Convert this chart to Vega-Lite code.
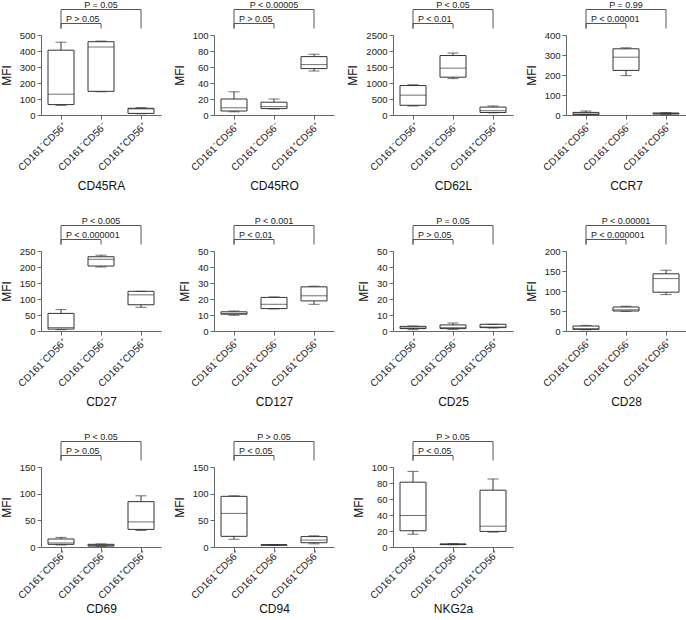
{
"$schema": "https://vega.github.io/schema/vega-lite/v6.json",
"padding": {"left": 0, "top": 0, "right": 0, "bottom": 0},
"columns": 4,
"spacing": {"row": 24, "column": 12},
"config": {
 "font": "Liberation Sans",
 "numberFormat": "d",
 "view": {"stroke": null},
 "axis": {"grid": false, "domainColor": "#666", "tickColor": "#666", "labelColor": "#222", "titleColor": "#111", "titleFontWeight": "normal", "labelFontSize": 9.5, "titleFontSize": 12, "tickSize": 4, "labelPadding": 2},
 "axisX": {"labelAngle": -45, "labelFontSize": 10, "titlePadding": 8},
 "axisY": {"titlePadding": 6},
 "text": {"color": "#222", "fontSize": 9},
 "concat": {"spacing": 0}
},
"datasets": {
 "boxes": [
  {"marker": "CD45RA", "group": "CD161⁻CD56⁺", "min": 60, "q1": 65, "median": 130, "q3": 405, "max": 455},
  {"marker": "CD45RA", "group": "CD161⁻CD56⁻", "min": 145, "q1": 148, "median": 425, "q3": 458, "max": 462},
  {"marker": "CD45RA", "group": "CD161⁺CD56⁺", "min": 8, "q1": 10, "median": 38, "q3": 42, "max": 46},
  {"marker": "CD45RO", "group": "CD161⁻CD56⁺", "min": 4, "q1": 5, "median": 9, "q3": 20, "max": 29},
  {"marker": "CD45RO", "group": "CD161⁻CD56⁻", "min": 7.5, "q1": 8, "median": 10.5, "q3": 16, "max": 20},
  {"marker": "CD45RO", "group": "CD161⁺CD56⁺", "min": 55, "q1": 58, "median": 63, "q3": 73, "max": 76},
  {"marker": "CD62L", "group": "CD161⁻CD56⁺", "min": 280, "q1": 304, "median": 620, "q3": 920, "max": 946},
  {"marker": "CD62L", "group": "CD161⁻CD56⁻", "min": 1137, "q1": 1182, "median": 1464, "q3": 1858, "max": 1937},
  {"marker": "CD62L", "group": "CD161⁺CD56⁺", "min": 68, "q1": 79, "median": 135, "q3": 248, "max": 282},
  {"marker": "CCR7", "group": "CD161⁻CD56⁺", "min": 1, "q1": 2, "median": 5, "q3": 13, "max": 20},
  {"marker": "CCR7", "group": "CD161⁻CD56⁻", "min": 197, "q1": 223, "median": 289, "q3": 331, "max": 336},
  {"marker": "CCR7", "group": "CD161⁺CD56⁺", "min": 3, "q1": 5, "median": 7, "q3": 10, "max": 12},
  {"marker": "CD27", "group": "CD161⁻CD56⁺", "min": 4, "q1": 6, "median": 10.5, "q3": 55, "max": 67},
  {"marker": "CD27", "group": "CD161⁻CD56⁻", "min": 200, "q1": 203, "median": 224, "q3": 232, "max": 237},
  {"marker": "CD27", "group": "CD161⁺CD56⁺", "min": 74, "q1": 82, "median": 113, "q3": 124, "max": 124},
  {"marker": "CD127", "group": "CD161⁻CD56⁺", "min": 9.8, "q1": 10.5, "median": 10.9, "q3": 12, "max": 12.5},
  {"marker": "CD127", "group": "CD161⁻CD56⁻", "min": 13.8, "q1": 14, "median": 16.7, "q3": 21, "max": 21.3},
  {"marker": "CD127", "group": "CD161⁺CD56⁺", "min": 16.7, "q1": 18.8, "median": 22, "q3": 27.6, "max": 28},
  {"marker": "CD25", "group": "CD161⁻CD56⁺", "min": 0.8, "q1": 1.5, "median": 1.9, "q3": 2.9, "max": 3.1},
  {"marker": "CD25", "group": "CD161⁻CD56⁻", "min": 1, "q1": 1.5, "median": 2.1, "q3": 3.8, "max": 5},
  {"marker": "CD25", "group": "CD161⁺CD56⁺", "min": 1.9, "q1": 2.1, "median": 2.5, "q3": 4.2, "max": 4.2},
  {"marker": "CD28", "group": "CD161⁻CD56⁺", "min": 3, "q1": 4, "median": 6, "q3": 12.5, "max": 14},
  {"marker": "CD28", "group": "CD161⁻CD56⁻", "min": 49, "q1": 50, "median": 53, "q3": 60, "max": 62},
  {"marker": "CD28", "group": "CD161⁺CD56⁺", "min": 91, "q1": 97, "median": 131, "q3": 143, "max": 152},
  {"marker": "CD69", "group": "CD161⁻CD56⁺", "min": 3.8, "q1": 5, "median": 7.6, "q3": 15, "max": 18},
  {"marker": "CD69", "group": "CD161⁻CD56⁻", "min": 1.3, "q1": 1.9, "median": 2.5, "q3": 5, "max": 5.7},
  {"marker": "CD69", "group": "CD161⁺CD56⁺", "min": 31, "q1": 33, "median": 47, "q3": 85, "max": 96},
  {"marker": "CD94", "group": "CD161⁻CD56⁺", "min": 14.5, "q1": 20, "median": 63, "q3": 95, "max": 96},
  {"marker": "CD94", "group": "CD161⁻CD56⁻", "min": 3, "q1": 3.2, "median": 3.8, "q3": 4.4, "max": 4.4},
  {"marker": "CD94", "group": "CD161⁺CD56⁺", "min": 6, "q1": 8, "median": 13, "q3": 19.5, "max": 21},
  {"marker": "NKG2a", "group": "CD161⁻CD56⁺", "min": 16, "q1": 20.3, "median": 39.4, "q3": 81, "max": 94.5},
  {"marker": "NKG2a", "group": "CD161⁻CD56⁻", "min": 2.9, "q1": 3, "median": 3.4, "q3": 3.8, "max": 4.2},
  {"marker": "NKG2a", "group": "CD161⁺CD56⁺", "min": 18.6, "q1": 19.5, "median": 26, "q3": 71, "max": 85}
 ],
 "brackets": [
  {"marker": "CD45RA", "level": 1, "from": "CD161⁻CD56⁺", "to": "CD161⁻CD56⁻", "label": "P > 0.05"},
  {"marker": "CD45RA", "level": 2, "from": "CD161⁻CD56⁺", "to": "CD161⁺CD56⁺", "label": "P =  0.05"},
  {"marker": "CD45RO", "level": 1, "from": "CD161⁻CD56⁺", "to": "CD161⁻CD56⁻", "label": "P > 0.05"},
  {"marker": "CD45RO", "level": 2, "from": "CD161⁻CD56⁺", "to": "CD161⁺CD56⁺", "label": "P < 0.00005"},
  {"marker": "CD62L", "level": 1, "from": "CD161⁻CD56⁺", "to": "CD161⁻CD56⁻", "label": "P < 0.01"},
  {"marker": "CD62L", "level": 2, "from": "CD161⁻CD56⁺", "to": "CD161⁺CD56⁺", "label": "P <  0.05"},
  {"marker": "CCR7", "level": 1, "from": "CD161⁻CD56⁺", "to": "CD161⁻CD56⁻", "label": "P < 0.00001"},
  {"marker": "CCR7", "level": 2, "from": "CD161⁻CD56⁺", "to": "CD161⁺CD56⁺", "label": "P = 0.99"},
  {"marker": "CD27", "level": 1, "from": "CD161⁻CD56⁺", "to": "CD161⁻CD56⁻", "label": "P < 0.000001"},
  {"marker": "CD27", "level": 2, "from": "CD161⁻CD56⁺", "to": "CD161⁺CD56⁺", "label": "P <  0.005"},
  {"marker": "CD127", "level": 1, "from": "CD161⁻CD56⁺", "to": "CD161⁻CD56⁻", "label": "P < 0.01"},
  {"marker": "CD127", "level": 2, "from": "CD161⁻CD56⁺", "to": "CD161⁺CD56⁺", "label": "P < 0.001"},
  {"marker": "CD25", "level": 1, "from": "CD161⁻CD56⁺", "to": "CD161⁻CD56⁻", "label": "P > 0.05"},
  {"marker": "CD25", "level": 2, "from": "CD161⁻CD56⁺", "to": "CD161⁺CD56⁺", "label": "P =  0.05"},
  {"marker": "CD28", "level": 1, "from": "CD161⁻CD56⁺", "to": "CD161⁻CD56⁻", "label": "P < 0.000001"},
  {"marker": "CD28", "level": 2, "from": "CD161⁻CD56⁺", "to": "CD161⁺CD56⁺", "label": "P < 0.00001"},
  {"marker": "CD69", "level": 1, "from": "CD161⁻CD56⁺", "to": "CD161⁻CD56⁻", "label": "P > 0.05"},
  {"marker": "CD69", "level": 2, "from": "CD161⁻CD56⁺", "to": "CD161⁺CD56⁺", "label": "P <  0.05"},
  {"marker": "CD94", "level": 1, "from": "CD161⁻CD56⁺", "to": "CD161⁻CD56⁻", "label": "P < 0.05"},
  {"marker": "CD94", "level": 2, "from": "CD161⁻CD56⁺", "to": "CD161⁺CD56⁺", "label": "P > 0.05"},
  {"marker": "NKG2a", "level": 1, "from": "CD161⁻CD56⁺", "to": "CD161⁻CD56⁻", "label": "P < 0.05"},
  {"marker": "NKG2a", "level": 2, "from": "CD161⁻CD56⁺", "to": "CD161⁺CD56⁺", "label": "P >  0.05"}
 ]
},
"concat": [
 {"spacing": 0, "vconcat": [
  {"width": 120, "height": 22, "data": {"name": "brackets"}, "transform": [{"filter": "datum.marker == 'CD45RA'"}],
   "encoding": {"x": {"field": "from", "type": "nominal", "scale": {"domain": ["CD161⁻CD56⁺", "CD161⁻CD56⁻", "CD161⁺CD56⁺"], "paddingInner": 0, "paddingOuter": 0}, "axis": null},
     "y": {"field": "level", "type": "quantitative", "scale": {"domain": [0, 1, 2], "range": [20.5, 15.5, 1.5], "zero": false, "nice": false}, "axis": null}},
   "layer": [
    {"mark": {"type": "rule", "color": "#555"}, "encoding": {"x2": {"field": "to"}}},
    {"mark": {"type": "rule", "color": "#555"}, "encoding": {"y2": {"datum": 0}}},
    {"mark": {"type": "rule", "color": "#555"}, "encoding": {"x": {"field": "to", "type": "nominal", "axis": null}, "y2": {"datum": 0}}},
    {"transform": [{"filter": "datum.level == 1"}], "mark": {"type": "text", "align": "left", "dx": 5, "dy": -2, "baseline": "alphabetic"}, "encoding": {"text": {"field": "label"}}},
    {"transform": [{"filter": "datum.level == 2"}], "mark": {"type": "text", "align": "center", "dy": -2, "baseline": "alphabetic"}, "encoding": {"x": {"datum": "CD161⁻CD56⁻", "type": "nominal", "axis": null}, "text": {"field": "label"}}}
   ]},
  {"width": 120, "height": 80, "data": {"name": "boxes"}, "transform": [{"filter": "datum.marker == 'CD45RA'"}],
   "encoding": {"x": {"field": "group", "type": "nominal", "scale": {"domain": ["CD161⁻CD56⁺", "CD161⁻CD56⁻", "CD161⁺CD56⁺"], "paddingInner": 0, "paddingOuter": 0}, "title": "CD45RA"}},
   "layer": [
    {"mark": {"type": "rule", "color": "#333"}, "encoding": {"y": {"field": "min", "type": "quantitative", "scale": {"domain": [0, 500], "nice": false}, "axis": {"values": [0, 100, 200, 300, 400, 500]}, "title": "MFI"}, "y2": {"field": "max"}}},
    {"mark": {"type": "bar", "fill": "white", "stroke": "#333", "strokeWidth": 1, "width": {"band": 0.65}}, "encoding": {"y": {"field": "q1", "type": "quantitative", "scale": {"domain": [0, 500], "nice": false}, "axis": {"values": [0, 100, 200, 300, 400, 500]}, "title": "MFI"}, "y2": {"field": "q3"}}},
    {"mark": {"type": "tick", "color": "#333", "size": 26, "thickness": 1}, "encoding": {"y": {"field": "median", "type": "quantitative", "scale": {"domain": [0, 500], "nice": false}, "axis": {"values": [0, 100, 200, 300, 400, 500]}, "title": "MFI"}}},
    {"mark": {"type": "tick", "color": "#333", "size": 11, "thickness": 1}, "encoding": {"y": {"field": "min", "type": "quantitative", "scale": {"domain": [0, 500], "nice": false}, "axis": {"values": [0, 100, 200, 300, 400, 500]}, "title": "MFI"}}},
    {"mark": {"type": "tick", "color": "#333", "size": 11, "thickness": 1}, "encoding": {"y": {"field": "max", "type": "quantitative", "scale": {"domain": [0, 500], "nice": false}, "axis": {"values": [0, 100, 200, 300, 400, 500]}, "title": "MFI"}}}
   ]}
 ]},
 {"spacing": 0, "vconcat": [
  {"width": 120, "height": 22, "data": {"name": "brackets"}, "transform": [{"filter": "datum.marker == 'CD45RO'"}],
   "encoding": {"x": {"field": "from", "type": "nominal", "scale": {"domain": ["CD161⁻CD56⁺", "CD161⁻CD56⁻", "CD161⁺CD56⁺"], "paddingInner": 0, "paddingOuter": 0}, "axis": null},
     "y": {"field": "level", "type": "quantitative", "scale": {"domain": [0, 1, 2], "range": [20.5, 15.5, 1.5], "zero": false, "nice": false}, "axis": null}},
   "layer": [
    {"mark": {"type": "rule", "color": "#555"}, "encoding": {"x2": {"field": "to"}}},
    {"mark": {"type": "rule", "color": "#555"}, "encoding": {"y2": {"datum": 0}}},
    {"mark": {"type": "rule", "color": "#555"}, "encoding": {"x": {"field": "to", "type": "nominal", "axis": null}, "y2": {"datum": 0}}},
    {"transform": [{"filter": "datum.level == 1"}], "mark": {"type": "text", "align": "left", "dx": 5, "dy": -2, "baseline": "alphabetic"}, "encoding": {"text": {"field": "label"}}},
    {"transform": [{"filter": "datum.level == 2"}], "mark": {"type": "text", "align": "center", "dy": -2, "baseline": "alphabetic"}, "encoding": {"x": {"datum": "CD161⁻CD56⁻", "type": "nominal", "axis": null}, "text": {"field": "label"}}}
   ]},
  {"width": 120, "height": 80, "data": {"name": "boxes"}, "transform": [{"filter": "datum.marker == 'CD45RO'"}],
   "encoding": {"x": {"field": "group", "type": "nominal", "scale": {"domain": ["CD161⁻CD56⁺", "CD161⁻CD56⁻", "CD161⁺CD56⁺"], "paddingInner": 0, "paddingOuter": 0}, "title": "CD45RO"}},
   "layer": [
    {"mark": {"type": "rule", "color": "#333"}, "encoding": {"y": {"field": "min", "type": "quantitative", "scale": {"domain": [0, 100], "nice": false}, "axis": {"values": [0, 20, 40, 60, 80, 100]}, "title": "MFI"}, "y2": {"field": "max"}}},
    {"mark": {"type": "bar", "fill": "white", "stroke": "#333", "strokeWidth": 1, "width": {"band": 0.65}}, "encoding": {"y": {"field": "q1", "type": "quantitative", "scale": {"domain": [0, 100], "nice": false}, "axis": {"values": [0, 20, 40, 60, 80, 100]}, "title": "MFI"}, "y2": {"field": "q3"}}},
    {"mark": {"type": "tick", "color": "#333", "size": 26, "thickness": 1}, "encoding": {"y": {"field": "median", "type": "quantitative", "scale": {"domain": [0, 100], "nice": false}, "axis": {"values": [0, 20, 40, 60, 80, 100]}, "title": "MFI"}}},
    {"mark": {"type": "tick", "color": "#333", "size": 11, "thickness": 1}, "encoding": {"y": {"field": "min", "type": "quantitative", "scale": {"domain": [0, 100], "nice": false}, "axis": {"values": [0, 20, 40, 60, 80, 100]}, "title": "MFI"}}},
    {"mark": {"type": "tick", "color": "#333", "size": 11, "thickness": 1}, "encoding": {"y": {"field": "max", "type": "quantitative", "scale": {"domain": [0, 100], "nice": false}, "axis": {"values": [0, 20, 40, 60, 80, 100]}, "title": "MFI"}}}
   ]}
 ]},
 {"spacing": 0, "vconcat": [
  {"width": 120, "height": 22, "data": {"name": "brackets"}, "transform": [{"filter": "datum.marker == 'CD62L'"}],
   "encoding": {"x": {"field": "from", "type": "nominal", "scale": {"domain": ["CD161⁻CD56⁺", "CD161⁻CD56⁻", "CD161⁺CD56⁺"], "paddingInner": 0, "paddingOuter": 0}, "axis": null},
     "y": {"field": "level", "type": "quantitative", "scale": {"domain": [0, 1, 2], "range": [20.5, 15.5, 1.5], "zero": false, "nice": false}, "axis": null}},
   "layer": [
    {"mark": {"type": "rule", "color": "#555"}, "encoding": {"x2": {"field": "to"}}},
    {"mark": {"type": "rule", "color": "#555"}, "encoding": {"y2": {"datum": 0}}},
    {"mark": {"type": "rule", "color": "#555"}, "encoding": {"x": {"field": "to", "type": "nominal", "axis": null}, "y2": {"datum": 0}}},
    {"transform": [{"filter": "datum.level == 1"}], "mark": {"type": "text", "align": "left", "dx": 5, "dy": -2, "baseline": "alphabetic"}, "encoding": {"text": {"field": "label"}}},
    {"transform": [{"filter": "datum.level == 2"}], "mark": {"type": "text", "align": "center", "dy": -2, "baseline": "alphabetic"}, "encoding": {"x": {"datum": "CD161⁻CD56⁻", "type": "nominal", "axis": null}, "text": {"field": "label"}}}
   ]},
  {"width": 120, "height": 80, "data": {"name": "boxes"}, "transform": [{"filter": "datum.marker == 'CD62L'"}],
   "encoding": {"x": {"field": "group", "type": "nominal", "scale": {"domain": ["CD161⁻CD56⁺", "CD161⁻CD56⁻", "CD161⁺CD56⁺"], "paddingInner": 0, "paddingOuter": 0}, "title": "CD62L"}},
   "layer": [
    {"mark": {"type": "rule", "color": "#333"}, "encoding": {"y": {"field": "min", "type": "quantitative", "scale": {"domain": [0, 2500], "nice": false}, "axis": {"values": [0, 500, 1000, 1500, 2000, 2500]}, "title": "MFI"}, "y2": {"field": "max"}}},
    {"mark": {"type": "bar", "fill": "white", "stroke": "#333", "strokeWidth": 1, "width": {"band": 0.65}}, "encoding": {"y": {"field": "q1", "type": "quantitative", "scale": {"domain": [0, 2500], "nice": false}, "axis": {"values": [0, 500, 1000, 1500, 2000, 2500]}, "title": "MFI"}, "y2": {"field": "q3"}}},
    {"mark": {"type": "tick", "color": "#333", "size": 26, "thickness": 1}, "encoding": {"y": {"field": "median", "type": "quantitative", "scale": {"domain": [0, 2500], "nice": false}, "axis": {"values": [0, 500, 1000, 1500, 2000, 2500]}, "title": "MFI"}}},
    {"mark": {"type": "tick", "color": "#333", "size": 11, "thickness": 1}, "encoding": {"y": {"field": "min", "type": "quantitative", "scale": {"domain": [0, 2500], "nice": false}, "axis": {"values": [0, 500, 1000, 1500, 2000, 2500]}, "title": "MFI"}}},
    {"mark": {"type": "tick", "color": "#333", "size": 11, "thickness": 1}, "encoding": {"y": {"field": "max", "type": "quantitative", "scale": {"domain": [0, 2500], "nice": false}, "axis": {"values": [0, 500, 1000, 1500, 2000, 2500]}, "title": "MFI"}}}
   ]}
 ]},
 {"spacing": 0, "vconcat": [
  {"width": 120, "height": 22, "data": {"name": "brackets"}, "transform": [{"filter": "datum.marker == 'CCR7'"}],
   "encoding": {"x": {"field": "from", "type": "nominal", "scale": {"domain": ["CD161⁻CD56⁺", "CD161⁻CD56⁻", "CD161⁺CD56⁺"], "paddingInner": 0, "paddingOuter": 0}, "axis": null},
     "y": {"field": "level", "type": "quantitative", "scale": {"domain": [0, 1, 2], "range": [20.5, 15.5, 1.5], "zero": false, "nice": false}, "axis": null}},
   "layer": [
    {"mark": {"type": "rule", "color": "#555"}, "encoding": {"x2": {"field": "to"}}},
    {"mark": {"type": "rule", "color": "#555"}, "encoding": {"y2": {"datum": 0}}},
    {"mark": {"type": "rule", "color": "#555"}, "encoding": {"x": {"field": "to", "type": "nominal", "axis": null}, "y2": {"datum": 0}}},
    {"transform": [{"filter": "datum.level == 1"}], "mark": {"type": "text", "align": "left", "dx": 5, "dy": -2, "baseline": "alphabetic"}, "encoding": {"text": {"field": "label"}}},
    {"transform": [{"filter": "datum.level == 2"}], "mark": {"type": "text", "align": "center", "dy": -2, "baseline": "alphabetic"}, "encoding": {"x": {"datum": "CD161⁻CD56⁻", "type": "nominal", "axis": null}, "text": {"field": "label"}}}
   ]},
  {"width": 120, "height": 80, "data": {"name": "boxes"}, "transform": [{"filter": "datum.marker == 'CCR7'"}],
   "encoding": {"x": {"field": "group", "type": "nominal", "scale": {"domain": ["CD161⁻CD56⁺", "CD161⁻CD56⁻", "CD161⁺CD56⁺"], "paddingInner": 0, "paddingOuter": 0}, "title": "CCR7"}},
   "layer": [
    {"mark": {"type": "rule", "color": "#333"}, "encoding": {"y": {"field": "min", "type": "quantitative", "scale": {"domain": [0, 400], "nice": false}, "axis": {"values": [0, 100, 200, 300, 400]}, "title": "MFI"}, "y2": {"field": "max"}}},
    {"mark": {"type": "bar", "fill": "white", "stroke": "#333", "strokeWidth": 1, "width": {"band": 0.65}}, "encoding": {"y": {"field": "q1", "type": "quantitative", "scale": {"domain": [0, 400], "nice": false}, "axis": {"values": [0, 100, 200, 300, 400]}, "title": "MFI"}, "y2": {"field": "q3"}}},
    {"mark": {"type": "tick", "color": "#333", "size": 26, "thickness": 1}, "encoding": {"y": {"field": "median", "type": "quantitative", "scale": {"domain": [0, 400], "nice": false}, "axis": {"values": [0, 100, 200, 300, 400]}, "title": "MFI"}}},
    {"mark": {"type": "tick", "color": "#333", "size": 11, "thickness": 1}, "encoding": {"y": {"field": "min", "type": "quantitative", "scale": {"domain": [0, 400], "nice": false}, "axis": {"values": [0, 100, 200, 300, 400]}, "title": "MFI"}}},
    {"mark": {"type": "tick", "color": "#333", "size": 11, "thickness": 1}, "encoding": {"y": {"field": "max", "type": "quantitative", "scale": {"domain": [0, 400], "nice": false}, "axis": {"values": [0, 100, 200, 300, 400]}, "title": "MFI"}}}
   ]}
 ]},
 {"spacing": 0, "vconcat": [
  {"width": 120, "height": 22, "data": {"name": "brackets"}, "transform": [{"filter": "datum.marker == 'CD27'"}],
   "encoding": {"x": {"field": "from", "type": "nominal", "scale": {"domain": ["CD161⁻CD56⁺", "CD161⁻CD56⁻", "CD161⁺CD56⁺"], "paddingInner": 0, "paddingOuter": 0}, "axis": null},
     "y": {"field": "level", "type": "quantitative", "scale": {"domain": [0, 1, 2], "range": [20.5, 15.5, 1.5], "zero": false, "nice": false}, "axis": null}},
   "layer": [
    {"mark": {"type": "rule", "color": "#555"}, "encoding": {"x2": {"field": "to"}}},
    {"mark": {"type": "rule", "color": "#555"}, "encoding": {"y2": {"datum": 0}}},
    {"mark": {"type": "rule", "color": "#555"}, "encoding": {"x": {"field": "to", "type": "nominal", "axis": null}, "y2": {"datum": 0}}},
    {"transform": [{"filter": "datum.level == 1"}], "mark": {"type": "text", "align": "left", "dx": 5, "dy": -2, "baseline": "alphabetic"}, "encoding": {"text": {"field": "label"}}},
    {"transform": [{"filter": "datum.level == 2"}], "mark": {"type": "text", "align": "center", "dy": -2, "baseline": "alphabetic"}, "encoding": {"x": {"datum": "CD161⁻CD56⁻", "type": "nominal", "axis": null}, "text": {"field": "label"}}}
   ]},
  {"width": 120, "height": 80, "data": {"name": "boxes"}, "transform": [{"filter": "datum.marker == 'CD27'"}],
   "encoding": {"x": {"field": "group", "type": "nominal", "scale": {"domain": ["CD161⁻CD56⁺", "CD161⁻CD56⁻", "CD161⁺CD56⁺"], "paddingInner": 0, "paddingOuter": 0}, "title": "CD27"}},
   "layer": [
    {"mark": {"type": "rule", "color": "#333"}, "encoding": {"y": {"field": "min", "type": "quantitative", "scale": {"domain": [0, 250], "nice": false}, "axis": {"values": [0, 50, 100, 150, 200, 250]}, "title": "MFI"}, "y2": {"field": "max"}}},
    {"mark": {"type": "bar", "fill": "white", "stroke": "#333", "strokeWidth": 1, "width": {"band": 0.65}}, "encoding": {"y": {"field": "q1", "type": "quantitative", "scale": {"domain": [0, 250], "nice": false}, "axis": {"values": [0, 50, 100, 150, 200, 250]}, "title": "MFI"}, "y2": {"field": "q3"}}},
    {"mark": {"type": "tick", "color": "#333", "size": 26, "thickness": 1}, "encoding": {"y": {"field": "median", "type": "quantitative", "scale": {"domain": [0, 250], "nice": false}, "axis": {"values": [0, 50, 100, 150, 200, 250]}, "title": "MFI"}}},
    {"mark": {"type": "tick", "color": "#333", "size": 11, "thickness": 1}, "encoding": {"y": {"field": "min", "type": "quantitative", "scale": {"domain": [0, 250], "nice": false}, "axis": {"values": [0, 50, 100, 150, 200, 250]}, "title": "MFI"}}},
    {"mark": {"type": "tick", "color": "#333", "size": 11, "thickness": 1}, "encoding": {"y": {"field": "max", "type": "quantitative", "scale": {"domain": [0, 250], "nice": false}, "axis": {"values": [0, 50, 100, 150, 200, 250]}, "title": "MFI"}}}
   ]}
 ]},
 {"spacing": 0, "vconcat": [
  {"width": 120, "height": 22, "data": {"name": "brackets"}, "transform": [{"filter": "datum.marker == 'CD127'"}],
   "encoding": {"x": {"field": "from", "type": "nominal", "scale": {"domain": ["CD161⁻CD56⁺", "CD161⁻CD56⁻", "CD161⁺CD56⁺"], "paddingInner": 0, "paddingOuter": 0}, "axis": null},
     "y": {"field": "level", "type": "quantitative", "scale": {"domain": [0, 1, 2], "range": [20.5, 15.5, 1.5], "zero": false, "nice": false}, "axis": null}},
   "layer": [
    {"mark": {"type": "rule", "color": "#555"}, "encoding": {"x2": {"field": "to"}}},
    {"mark": {"type": "rule", "color": "#555"}, "encoding": {"y2": {"datum": 0}}},
    {"mark": {"type": "rule", "color": "#555"}, "encoding": {"x": {"field": "to", "type": "nominal", "axis": null}, "y2": {"datum": 0}}},
    {"transform": [{"filter": "datum.level == 1"}], "mark": {"type": "text", "align": "left", "dx": 5, "dy": -2, "baseline": "alphabetic"}, "encoding": {"text": {"field": "label"}}},
    {"transform": [{"filter": "datum.level == 2"}], "mark": {"type": "text", "align": "center", "dy": -2, "baseline": "alphabetic"}, "encoding": {"x": {"datum": "CD161⁻CD56⁻", "type": "nominal", "axis": null}, "text": {"field": "label"}}}
   ]},
  {"width": 120, "height": 80, "data": {"name": "boxes"}, "transform": [{"filter": "datum.marker == 'CD127'"}],
   "encoding": {"x": {"field": "group", "type": "nominal", "scale": {"domain": ["CD161⁻CD56⁺", "CD161⁻CD56⁻", "CD161⁺CD56⁺"], "paddingInner": 0, "paddingOuter": 0}, "title": "CD127"}},
   "layer": [
    {"mark": {"type": "rule", "color": "#333"}, "encoding": {"y": {"field": "min", "type": "quantitative", "scale": {"domain": [0, 50], "nice": false}, "axis": {"values": [0, 10, 20, 30, 40, 50]}, "title": "MFI"}, "y2": {"field": "max"}}},
    {"mark": {"type": "bar", "fill": "white", "stroke": "#333", "strokeWidth": 1, "width": {"band": 0.65}}, "encoding": {"y": {"field": "q1", "type": "quantitative", "scale": {"domain": [0, 50], "nice": false}, "axis": {"values": [0, 10, 20, 30, 40, 50]}, "title": "MFI"}, "y2": {"field": "q3"}}},
    {"mark": {"type": "tick", "color": "#333", "size": 26, "thickness": 1}, "encoding": {"y": {"field": "median", "type": "quantitative", "scale": {"domain": [0, 50], "nice": false}, "axis": {"values": [0, 10, 20, 30, 40, 50]}, "title": "MFI"}}},
    {"mark": {"type": "tick", "color": "#333", "size": 11, "thickness": 1}, "encoding": {"y": {"field": "min", "type": "quantitative", "scale": {"domain": [0, 50], "nice": false}, "axis": {"values": [0, 10, 20, 30, 40, 50]}, "title": "MFI"}}},
    {"mark": {"type": "tick", "color": "#333", "size": 11, "thickness": 1}, "encoding": {"y": {"field": "max", "type": "quantitative", "scale": {"domain": [0, 50], "nice": false}, "axis": {"values": [0, 10, 20, 30, 40, 50]}, "title": "MFI"}}}
   ]}
 ]},
 {"spacing": 0, "vconcat": [
  {"width": 120, "height": 22, "data": {"name": "brackets"}, "transform": [{"filter": "datum.marker == 'CD25'"}],
   "encoding": {"x": {"field": "from", "type": "nominal", "scale": {"domain": ["CD161⁻CD56⁺", "CD161⁻CD56⁻", "CD161⁺CD56⁺"], "paddingInner": 0, "paddingOuter": 0}, "axis": null},
     "y": {"field": "level", "type": "quantitative", "scale": {"domain": [0, 1, 2], "range": [20.5, 15.5, 1.5], "zero": false, "nice": false}, "axis": null}},
   "layer": [
    {"mark": {"type": "rule", "color": "#555"}, "encoding": {"x2": {"field": "to"}}},
    {"mark": {"type": "rule", "color": "#555"}, "encoding": {"y2": {"datum": 0}}},
    {"mark": {"type": "rule", "color": "#555"}, "encoding": {"x": {"field": "to", "type": "nominal", "axis": null}, "y2": {"datum": 0}}},
    {"transform": [{"filter": "datum.level == 1"}], "mark": {"type": "text", "align": "left", "dx": 5, "dy": -2, "baseline": "alphabetic"}, "encoding": {"text": {"field": "label"}}},
    {"transform": [{"filter": "datum.level == 2"}], "mark": {"type": "text", "align": "center", "dy": -2, "baseline": "alphabetic"}, "encoding": {"x": {"datum": "CD161⁻CD56⁻", "type": "nominal", "axis": null}, "text": {"field": "label"}}}
   ]},
  {"width": 120, "height": 80, "data": {"name": "boxes"}, "transform": [{"filter": "datum.marker == 'CD25'"}],
   "encoding": {"x": {"field": "group", "type": "nominal", "scale": {"domain": ["CD161⁻CD56⁺", "CD161⁻CD56⁻", "CD161⁺CD56⁺"], "paddingInner": 0, "paddingOuter": 0}, "title": "CD25"}},
   "layer": [
    {"mark": {"type": "rule", "color": "#333"}, "encoding": {"y": {"field": "min", "type": "quantitative", "scale": {"domain": [0, 50], "nice": false}, "axis": {"values": [0, 10, 20, 30, 40, 50]}, "title": "MFI"}, "y2": {"field": "max"}}},
    {"mark": {"type": "bar", "fill": "white", "stroke": "#333", "strokeWidth": 1, "width": {"band": 0.65}}, "encoding": {"y": {"field": "q1", "type": "quantitative", "scale": {"domain": [0, 50], "nice": false}, "axis": {"values": [0, 10, 20, 30, 40, 50]}, "title": "MFI"}, "y2": {"field": "q3"}}},
    {"mark": {"type": "tick", "color": "#333", "size": 26, "thickness": 1}, "encoding": {"y": {"field": "median", "type": "quantitative", "scale": {"domain": [0, 50], "nice": false}, "axis": {"values": [0, 10, 20, 30, 40, 50]}, "title": "MFI"}}},
    {"mark": {"type": "tick", "color": "#333", "size": 11, "thickness": 1}, "encoding": {"y": {"field": "min", "type": "quantitative", "scale": {"domain": [0, 50], "nice": false}, "axis": {"values": [0, 10, 20, 30, 40, 50]}, "title": "MFI"}}},
    {"mark": {"type": "tick", "color": "#333", "size": 11, "thickness": 1}, "encoding": {"y": {"field": "max", "type": "quantitative", "scale": {"domain": [0, 50], "nice": false}, "axis": {"values": [0, 10, 20, 30, 40, 50]}, "title": "MFI"}}}
   ]}
 ]},
 {"spacing": 0, "vconcat": [
  {"width": 120, "height": 22, "data": {"name": "brackets"}, "transform": [{"filter": "datum.marker == 'CD28'"}],
   "encoding": {"x": {"field": "from", "type": "nominal", "scale": {"domain": ["CD161⁻CD56⁺", "CD161⁻CD56⁻", "CD161⁺CD56⁺"], "paddingInner": 0, "paddingOuter": 0}, "axis": null},
     "y": {"field": "level", "type": "quantitative", "scale": {"domain": [0, 1, 2], "range": [20.5, 15.5, 1.5], "zero": false, "nice": false}, "axis": null}},
   "layer": [
    {"mark": {"type": "rule", "color": "#555"}, "encoding": {"x2": {"field": "to"}}},
    {"mark": {"type": "rule", "color": "#555"}, "encoding": {"y2": {"datum": 0}}},
    {"mark": {"type": "rule", "color": "#555"}, "encoding": {"x": {"field": "to", "type": "nominal", "axis": null}, "y2": {"datum": 0}}},
    {"transform": [{"filter": "datum.level == 1"}], "mark": {"type": "text", "align": "left", "dx": 5, "dy": -2, "baseline": "alphabetic"}, "encoding": {"text": {"field": "label"}}},
    {"transform": [{"filter": "datum.level == 2"}], "mark": {"type": "text", "align": "center", "dy": -2, "baseline": "alphabetic"}, "encoding": {"x": {"datum": "CD161⁻CD56⁻", "type": "nominal", "axis": null}, "text": {"field": "label"}}}
   ]},
  {"width": 120, "height": 80, "data": {"name": "boxes"}, "transform": [{"filter": "datum.marker == 'CD28'"}],
   "encoding": {"x": {"field": "group", "type": "nominal", "scale": {"domain": ["CD161⁻CD56⁺", "CD161⁻CD56⁻", "CD161⁺CD56⁺"], "paddingInner": 0, "paddingOuter": 0}, "title": "CD28"}},
   "layer": [
    {"mark": {"type": "rule", "color": "#333"}, "encoding": {"y": {"field": "min", "type": "quantitative", "scale": {"domain": [0, 200], "nice": false}, "axis": {"values": [0, 50, 100, 150, 200]}, "title": "MFI"}, "y2": {"field": "max"}}},
    {"mark": {"type": "bar", "fill": "white", "stroke": "#333", "strokeWidth": 1, "width": {"band": 0.65}}, "encoding": {"y": {"field": "q1", "type": "quantitative", "scale": {"domain": [0, 200], "nice": false}, "axis": {"values": [0, 50, 100, 150, 200]}, "title": "MFI"}, "y2": {"field": "q3"}}},
    {"mark": {"type": "tick", "color": "#333", "size": 26, "thickness": 1}, "encoding": {"y": {"field": "median", "type": "quantitative", "scale": {"domain": [0, 200], "nice": false}, "axis": {"values": [0, 50, 100, 150, 200]}, "title": "MFI"}}},
    {"mark": {"type": "tick", "color": "#333", "size": 11, "thickness": 1}, "encoding": {"y": {"field": "min", "type": "quantitative", "scale": {"domain": [0, 200], "nice": false}, "axis": {"values": [0, 50, 100, 150, 200]}, "title": "MFI"}}},
    {"mark": {"type": "tick", "color": "#333", "size": 11, "thickness": 1}, "encoding": {"y": {"field": "max", "type": "quantitative", "scale": {"domain": [0, 200], "nice": false}, "axis": {"values": [0, 50, 100, 150, 200]}, "title": "MFI"}}}
   ]}
 ]},
 {"spacing": 0, "vconcat": [
  {"width": 120, "height": 22, "data": {"name": "brackets"}, "transform": [{"filter": "datum.marker == 'CD69'"}],
   "encoding": {"x": {"field": "from", "type": "nominal", "scale": {"domain": ["CD161⁻CD56⁺", "CD161⁻CD56⁻", "CD161⁺CD56⁺"], "paddingInner": 0, "paddingOuter": 0}, "axis": null},
     "y": {"field": "level", "type": "quantitative", "scale": {"domain": [0, 1, 2], "range": [20.5, 15.5, 1.5], "zero": false, "nice": false}, "axis": null}},
   "layer": [
    {"mark": {"type": "rule", "color": "#555"}, "encoding": {"x2": {"field": "to"}}},
    {"mark": {"type": "rule", "color": "#555"}, "encoding": {"y2": {"datum": 0}}},
    {"mark": {"type": "rule", "color": "#555"}, "encoding": {"x": {"field": "to", "type": "nominal", "axis": null}, "y2": {"datum": 0}}},
    {"transform": [{"filter": "datum.level == 1"}], "mark": {"type": "text", "align": "left", "dx": 5, "dy": -2, "baseline": "alphabetic"}, "encoding": {"text": {"field": "label"}}},
    {"transform": [{"filter": "datum.level == 2"}], "mark": {"type": "text", "align": "center", "dy": -2, "baseline": "alphabetic"}, "encoding": {"x": {"datum": "CD161⁻CD56⁻", "type": "nominal", "axis": null}, "text": {"field": "label"}}}
   ]},
  {"width": 120, "height": 80, "data": {"name": "boxes"}, "transform": [{"filter": "datum.marker == 'CD69'"}],
   "encoding": {"x": {"field": "group", "type": "nominal", "scale": {"domain": ["CD161⁻CD56⁺", "CD161⁻CD56⁻", "CD161⁺CD56⁺"], "paddingInner": 0, "paddingOuter": 0}, "title": "CD69", "axis": {"labelPadding": -2, "titlePadding": 3}}},
   "layer": [
    {"mark": {"type": "rule", "color": "#333"}, "encoding": {"y": {"field": "min", "type": "quantitative", "scale": {"domain": [0, 150], "nice": false}, "axis": {"values": [0, 50, 100, 150]}, "title": "MFI"}, "y2": {"field": "max"}}},
    {"mark": {"type": "bar", "fill": "white", "stroke": "#333", "strokeWidth": 1, "width": {"band": 0.65}}, "encoding": {"y": {"field": "q1", "type": "quantitative", "scale": {"domain": [0, 150], "nice": false}, "axis": {"values": [0, 50, 100, 150]}, "title": "MFI"}, "y2": {"field": "q3"}}},
    {"mark": {"type": "tick", "color": "#333", "size": 26, "thickness": 1}, "encoding": {"y": {"field": "median", "type": "quantitative", "scale": {"domain": [0, 150], "nice": false}, "axis": {"values": [0, 50, 100, 150]}, "title": "MFI"}}},
    {"mark": {"type": "tick", "color": "#333", "size": 11, "thickness": 1}, "encoding": {"y": {"field": "min", "type": "quantitative", "scale": {"domain": [0, 150], "nice": false}, "axis": {"values": [0, 50, 100, 150]}, "title": "MFI"}}},
    {"mark": {"type": "tick", "color": "#333", "size": 11, "thickness": 1}, "encoding": {"y": {"field": "max", "type": "quantitative", "scale": {"domain": [0, 150], "nice": false}, "axis": {"values": [0, 50, 100, 150]}, "title": "MFI"}}}
   ]}
 ]},
 {"spacing": 0, "vconcat": [
  {"width": 120, "height": 22, "data": {"name": "brackets"}, "transform": [{"filter": "datum.marker == 'CD94'"}],
   "encoding": {"x": {"field": "from", "type": "nominal", "scale": {"domain": ["CD161⁻CD56⁺", "CD161⁻CD56⁻", "CD161⁺CD56⁺"], "paddingInner": 0, "paddingOuter": 0}, "axis": null},
     "y": {"field": "level", "type": "quantitative", "scale": {"domain": [0, 1, 2], "range": [20.5, 15.5, 1.5], "zero": false, "nice": false}, "axis": null}},
   "layer": [
    {"mark": {"type": "rule", "color": "#555"}, "encoding": {"x2": {"field": "to"}}},
    {"mark": {"type": "rule", "color": "#555"}, "encoding": {"y2": {"datum": 0}}},
    {"mark": {"type": "rule", "color": "#555"}, "encoding": {"x": {"field": "to", "type": "nominal", "axis": null}, "y2": {"datum": 0}}},
    {"transform": [{"filter": "datum.level == 1"}], "mark": {"type": "text", "align": "left", "dx": 5, "dy": -2, "baseline": "alphabetic"}, "encoding": {"text": {"field": "label"}}},
    {"transform": [{"filter": "datum.level == 2"}], "mark": {"type": "text", "align": "center", "dy": -2, "baseline": "alphabetic"}, "encoding": {"x": {"datum": "CD161⁻CD56⁻", "type": "nominal", "axis": null}, "text": {"field": "label"}}}
   ]},
  {"width": 120, "height": 80, "data": {"name": "boxes"}, "transform": [{"filter": "datum.marker == 'CD94'"}],
   "encoding": {"x": {"field": "group", "type": "nominal", "scale": {"domain": ["CD161⁻CD56⁺", "CD161⁻CD56⁻", "CD161⁺CD56⁺"], "paddingInner": 0, "paddingOuter": 0}, "title": "CD94", "axis": {"labelPadding": -2, "titlePadding": 3}}},
   "layer": [
    {"mark": {"type": "rule", "color": "#333"}, "encoding": {"y": {"field": "min", "type": "quantitative", "scale": {"domain": [0, 150], "nice": false}, "axis": {"values": [0, 50, 100, 150]}, "title": "MFI"}, "y2": {"field": "max"}}},
    {"mark": {"type": "bar", "fill": "white", "stroke": "#333", "strokeWidth": 1, "width": {"band": 0.65}}, "encoding": {"y": {"field": "q1", "type": "quantitative", "scale": {"domain": [0, 150], "nice": false}, "axis": {"values": [0, 50, 100, 150]}, "title": "MFI"}, "y2": {"field": "q3"}}},
    {"mark": {"type": "tick", "color": "#333", "size": 26, "thickness": 1}, "encoding": {"y": {"field": "median", "type": "quantitative", "scale": {"domain": [0, 150], "nice": false}, "axis": {"values": [0, 50, 100, 150]}, "title": "MFI"}}},
    {"mark": {"type": "tick", "color": "#333", "size": 11, "thickness": 1}, "encoding": {"y": {"field": "min", "type": "quantitative", "scale": {"domain": [0, 150], "nice": false}, "axis": {"values": [0, 50, 100, 150]}, "title": "MFI"}}},
    {"mark": {"type": "tick", "color": "#333", "size": 11, "thickness": 1}, "encoding": {"y": {"field": "max", "type": "quantitative", "scale": {"domain": [0, 150], "nice": false}, "axis": {"values": [0, 50, 100, 150]}, "title": "MFI"}}}
   ]}
 ]},
 {"spacing": 0, "vconcat": [
  {"width": 120, "height": 22, "data": {"name": "brackets"}, "transform": [{"filter": "datum.marker == 'NKG2a'"}],
   "encoding": {"x": {"field": "from", "type": "nominal", "scale": {"domain": ["CD161⁻CD56⁺", "CD161⁻CD56⁻", "CD161⁺CD56⁺"], "paddingInner": 0, "paddingOuter": 0}, "axis": null},
     "y": {"field": "level", "type": "quantitative", "scale": {"domain": [0, 1, 2], "range": [20.5, 15.5, 1.5], "zero": false, "nice": false}, "axis": null}},
   "layer": [
    {"mark": {"type": "rule", "color": "#555"}, "encoding": {"x2": {"field": "to"}}},
    {"mark": {"type": "rule", "color": "#555"}, "encoding": {"y2": {"datum": 0}}},
    {"mark": {"type": "rule", "color": "#555"}, "encoding": {"x": {"field": "to", "type": "nominal", "axis": null}, "y2": {"datum": 0}}},
    {"transform": [{"filter": "datum.level == 1"}], "mark": {"type": "text", "align": "left", "dx": 5, "dy": -2, "baseline": "alphabetic"}, "encoding": {"text": {"field": "label"}}},
    {"transform": [{"filter": "datum.level == 2"}], "mark": {"type": "text", "align": "center", "dy": -2, "baseline": "alphabetic"}, "encoding": {"x": {"datum": "CD161⁻CD56⁻", "type": "nominal", "axis": null}, "text": {"field": "label"}}}
   ]},
  {"width": 120, "height": 80, "data": {"name": "boxes"}, "transform": [{"filter": "datum.marker == 'NKG2a'"}],
   "encoding": {"x": {"field": "group", "type": "nominal", "scale": {"domain": ["CD161⁻CD56⁺", "CD161⁻CD56⁻", "CD161⁺CD56⁺"], "paddingInner": 0, "paddingOuter": 0}, "title": "NKG2a", "axis": {"labelPadding": -2, "titlePadding": 3}}},
   "layer": [
    {"mark": {"type": "rule", "color": "#333"}, "encoding": {"y": {"field": "min", "type": "quantitative", "scale": {"domain": [0, 100], "nice": false}, "axis": {"values": [0, 20, 40, 60, 80, 100]}, "title": "MFI"}, "y2": {"field": "max"}}},
    {"mark": {"type": "bar", "fill": "white", "stroke": "#333", "strokeWidth": 1, "width": {"band": 0.65}}, "encoding": {"y": {"field": "q1", "type": "quantitative", "scale": {"domain": [0, 100], "nice": false}, "axis": {"values": [0, 20, 40, 60, 80, 100]}, "title": "MFI"}, "y2": {"field": "q3"}}},
    {"mark": {"type": "tick", "color": "#333", "size": 26, "thickness": 1}, "encoding": {"y": {"field": "median", "type": "quantitative", "scale": {"domain": [0, 100], "nice": false}, "axis": {"values": [0, 20, 40, 60, 80, 100]}, "title": "MFI"}}},
    {"mark": {"type": "tick", "color": "#333", "size": 11, "thickness": 1}, "encoding": {"y": {"field": "min", "type": "quantitative", "scale": {"domain": [0, 100], "nice": false}, "axis": {"values": [0, 20, 40, 60, 80, 100]}, "title": "MFI"}}},
    {"mark": {"type": "tick", "color": "#333", "size": 11, "thickness": 1}, "encoding": {"y": {"field": "max", "type": "quantitative", "scale": {"domain": [0, 100], "nice": false}, "axis": {"values": [0, 20, 40, 60, 80, 100]}, "title": "MFI"}}}
   ]}
 ]}
]
}
